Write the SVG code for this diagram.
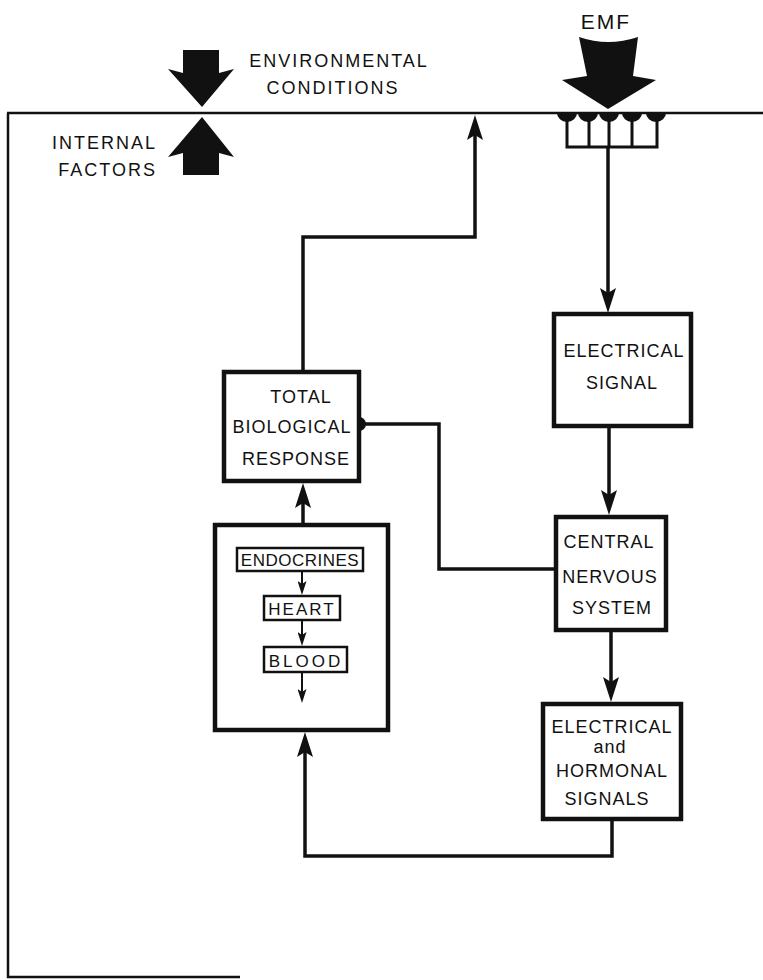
<svg xmlns="http://www.w3.org/2000/svg" width="763" height="980" viewBox="0 0 763 980">
<style>
text{font-family:"Liberation Sans",Arial,sans-serif;fill:#111;text-anchor:middle}
.lbl{font-size:18px;letter-spacing:1px}
.big{font-size:18px;letter-spacing:2px}
.box{fill:#fff;stroke:#111;stroke-width:4.5}
.sbox{fill:#fff;stroke:#111;stroke-width:2.5}
.con{fill:none;stroke:#111;stroke-width:3.5}
.thin{fill:none;stroke:#111;stroke-width:2}
.frame{fill:none;stroke:#111;stroke-width:2.5}
.blk{fill:#111}
</style>
<defs>
<marker id="ah" markerWidth="26" markerHeight="16" refX="13" refY="8" orient="auto" markerUnits="userSpaceOnUse"><path d="M0,0 L25,8 L0,16 L5,8 Z" fill="#111"/></marker>
<marker id="ahs" markerWidth="15" markerHeight="9" refX="8" refY="4.5" orient="auto" markerUnits="userSpaceOnUse"><path d="M0,0 L14,4.5 L0,9 L3,4.5 Z" fill="#111"/></marker>
</defs>

<g id="frame">
<path class="frame" d="M7,113 H763"/>
<path class="frame" d="M8,113 V977 H240"/>
</g>

<g id="environmental-conditions">
<polygon class="blk" points="183,50 219,50 219,73 234,69 202,107 168,69 183,73"/>
<text class="big" x="339" y="67">ENVIRONMENTAL</text>
<text class="big" x="333" y="94">CONDITIONS</text>
</g>

<g id="internal-factors">
<polygon class="blk" points="202,117 234,157 219,153 219,175 183,175 183,153 168,157"/>
<text class="big" x="157" y="149" style="text-anchor:end">INTERNAL</text>
<text class="big" x="157" y="176" style="text-anchor:end">FACTORS</text>
</g>

<g id="emf">
<text x="606" y="29" style="font-size:21px;letter-spacing:2px">EMF</text>
<path class="blk" d="M579,37 Q608,47 638,37 L633,76 L656,80 L608,109 L562,80 L587,76 Z"/>
</g>

<g id="receptors">
<path class="blk" d="M557,113 A10,9 0 0 0 577,113 Z M578,113 A10,9 0 0 0 598,113 Z M599,113 A10,9 0 0 0 619,113 Z M622,113 A10,9 0 0 0 642,113 Z M646,113 A10,9 0 0 0 666,113 Z"/>
<path class="thin" style="stroke-width:3" d="M567,115 V147 M589,115 V147 M609,115 V147 M632,115 V147 M657,115 V147 M565.5,147 H658.5"/>
</g>

<g id="electrical-signal">
<rect class="box" x="554" y="314" width="137" height="112"/>
<text class="lbl" x="624" y="357">ELECTRICAL</text>
<text class="lbl" x="622" y="389">SIGNAL</text>
</g>

<g id="central-nervous-system">
<rect class="box" x="556" y="517" width="110" height="113"/>
<text class="lbl" x="609" y="548">CENTRAL</text>
<text class="lbl" x="610" y="583">NERVOUS</text>
<text class="lbl" x="612" y="614">SYSTEM</text>
</g>

<g id="electrical-hormonal-signals">
<rect class="box" x="543" y="704" width="138" height="115"/>
<text class="lbl" x="612" y="733">ELECTRICAL</text>
<text class="lbl" x="610" y="753">and</text>
<text class="lbl" x="612" y="777">HORMONAL</text>
<text class="lbl" x="607" y="805">SIGNALS</text>
</g>

<g id="total-biological-response">
<rect class="box" x="224" y="372" width="135" height="109"/>
<path class="blk" d="M359,417 A7,7 0 0 1 359,431 Z"/>
<text class="lbl" x="301" y="403">TOTAL</text>
<text class="lbl" x="292" y="433">BIOLOGICAL</text>
<text class="lbl" x="296" y="465">RESPONSE</text>
</g>

<g id="physiology">
<rect class="box" x="215" y="525" width="173" height="205"/>
<rect class="sbox" x="237" y="548" width="126" height="23"/>
<text x="300" y="566" style="font-size:17px;letter-spacing:0.5px">ENDOCRINES</text>
<rect class="sbox" x="264" y="596" width="76" height="24"/>
<text x="302" y="615" style="font-size:17px;letter-spacing:2px">HEART</text>
<rect class="sbox" x="264" y="647" width="83" height="25"/>
<text x="306" y="667" style="font-size:17px;letter-spacing:3px">BLOOD</text>
<path class="thin" marker-end="url(#ahs)" d="M302,572 V589"/>
<path class="thin" marker-end="url(#ahs)" d="M302,621 V640"/>
<path class="thin" marker-end="url(#ahs)" d="M302,673 V697"/>
</g>

<g id="connectors">
<path class="con" marker-end="url(#ah)" d="M608,147 V301"/>
<path class="con" marker-end="url(#ah)" d="M609,428 V503"/>
<path class="con" marker-end="url(#ah)" d="M611,632 V690"/>
<path class="con" marker-end="url(#ah)" d="M612,821 V856 H305 V744"/>
<path class="con" marker-end="url(#ah)" d="M303,523 V495"/>
<path class="con" marker-end="url(#ah)" d="M303,370 V237 H475 V127"/>
<path class="con" d="M365,424 H439 V569 H554"/>
</g>
</svg>
